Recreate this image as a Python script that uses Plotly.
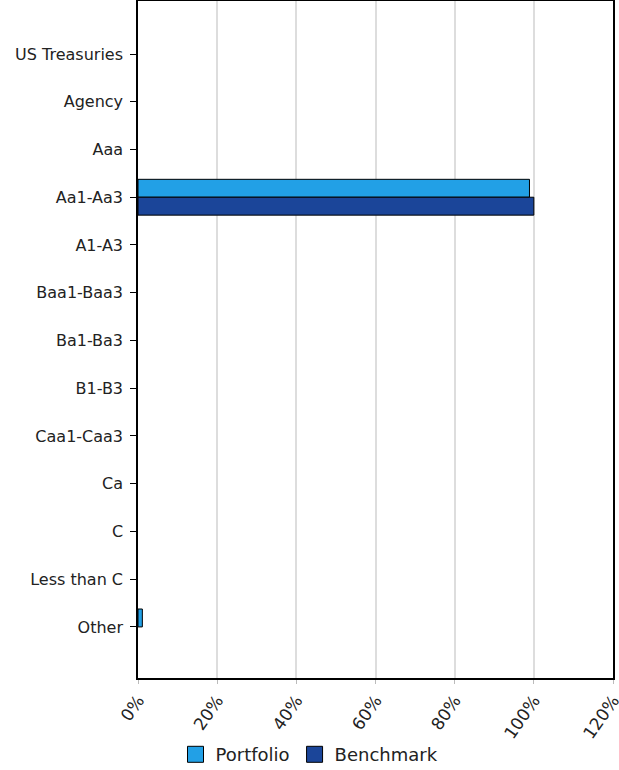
import plotly.graph_objects as go

categories = ["US Treasuries", "Agency", "Aaa", "Aa1-Aa3", "A1-A3", "Baa1-Baa3",
              "Ba1-Ba3", "B1-B3", "Caa1-Caa3", "Ca", "C", "Less than C", "Other"]
portfolio = [0, 0, 0, 98.9, 0, 0, 0, 0, 0, 0, 0, 0, 1.1]
benchmark = [0, 0, 0, 100.0, 0, 0, 0, 0, 0, 0, 0, 0, 0]
x_ticks = [0, 20, 40, 60, 80, 100, 120]
x_tick_labels = ["0%", "20%", "40%", "60%", "80%", "100%", "120%"]

c_port = "#22A0E6"
c_bench = "#1B4599"


def nz(vals):
    # zero-width bars would still draw an outline; hide them
    return [v if v else None for v in vals]


fig = go.Figure()
fig.add_trace(go.Bar(y=categories, x=nz(portfolio), orientation="h", name="Portfolio",
                     marker=dict(color=c_port, line=dict(color="black", width=1)),
                     showlegend=False))
fig.add_trace(go.Bar(y=categories, x=nz(benchmark), orientation="h", name="Benchmark",
                     marker=dict(color=c_bench, line=dict(color="black", width=1)),
                     showlegend=False))
# legend entries
fig.add_trace(go.Scatter(x=[None], y=[None], mode="markers", name="Portfolio",
                         marker=dict(symbol="square", size=22, color=c_port,
                                     line=dict(color="black", width=1))))
fig.add_trace(go.Scatter(x=[None], y=[None], mode="markers", name="Benchmark",
                         marker=dict(symbol="square", size=22, color=c_bench,
                                     line=dict(color="black", width=1))))

fig.update_layout(
    width=619, height=770,
    margin=dict(l=138, r=6, t=1, b=92, autoexpand=False),
    paper_bgcolor="white", plot_bgcolor="white",
    barmode="group", bargap=0.25, bargroupgap=0,
    font=dict(family="DejaVu Sans", size=16, color="#222"),
    legend=dict(orientation="h", x=0.5, xanchor="center", xref="container",
                y=0.02, yanchor="middle", yref="container",
                font=dict(size=18, color="#222"), itemsizing="trace",
                traceorder="normal", tracegroupgap=0, itemwidth=30),
    xaxis=dict(range=[0, 120], tickvals=x_ticks, ticktext=x_tick_labels,
               tickangle=-55, tickfont=dict(size=17), automargin=False,
               ticklabeloverflow="allow",
               showgrid=True, gridcolor="#DDDDDD", gridwidth=2,
               showline=True, linecolor="black", linewidth=1.5, mirror=True,
               ticks="outside", ticklen=4, tickcolor="#BBBBBB", zeroline=False),
    yaxis=dict(categoryorder="array", categoryarray=categories,
               range=[13.07, -1.11], showgrid=False, automargin=False,
               showline=True, linecolor="black", linewidth=1.5, mirror=True,
               ticks="outside", ticklen=6, tickcolor="black", tickfont=dict(size=16),
               ticklabelstandoff=4, zeroline=False),
)

fig.write_html("out.html", config={"displayModeBar": False},
               post_script="document.body.style.margin='0';")
